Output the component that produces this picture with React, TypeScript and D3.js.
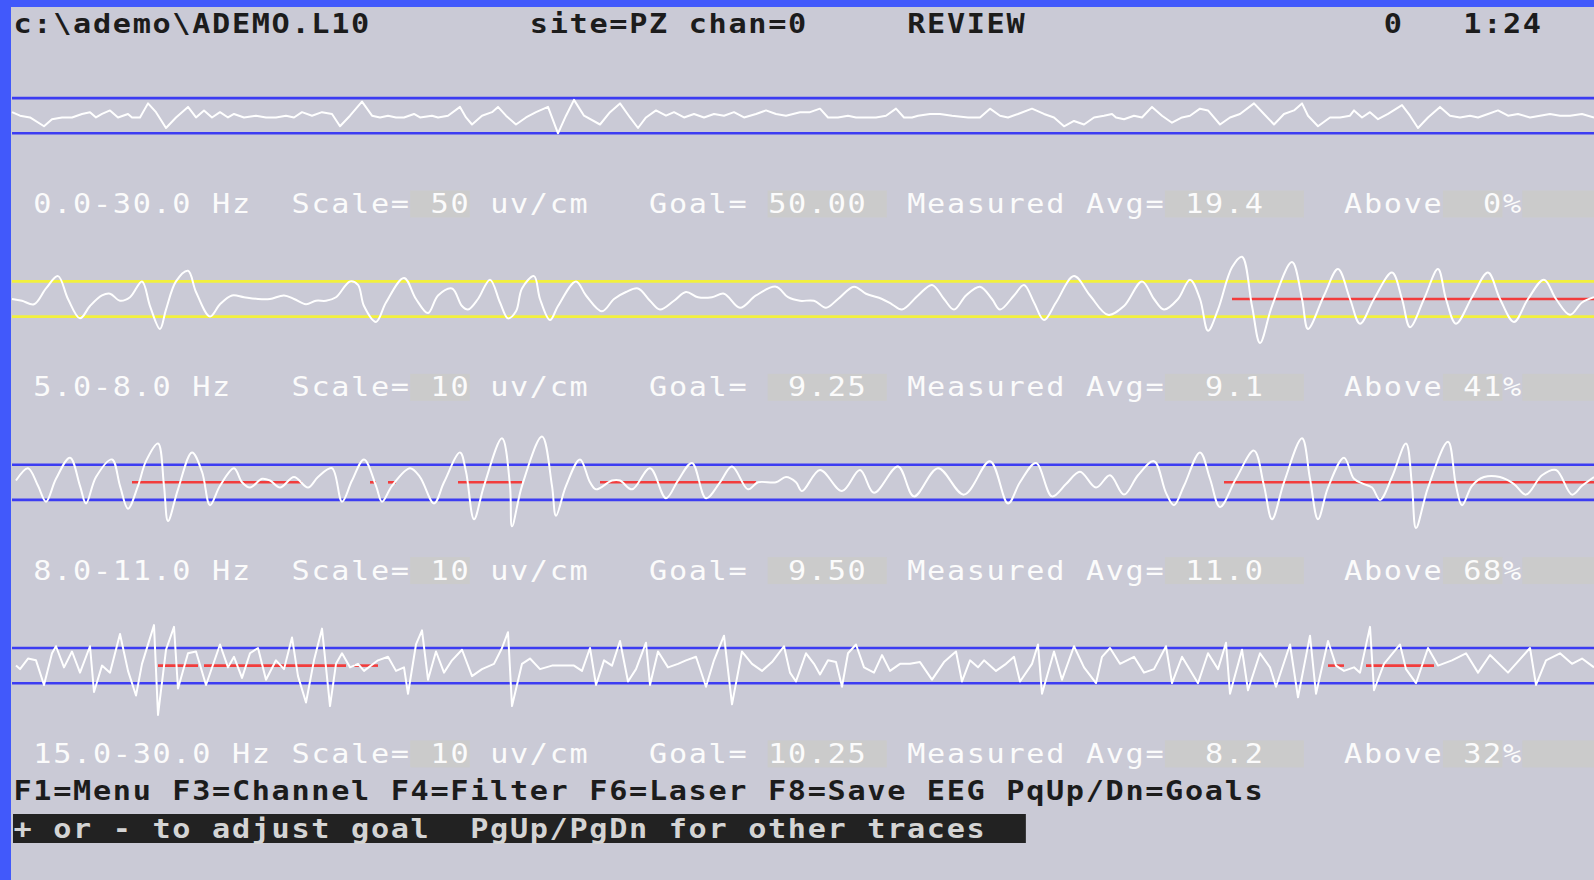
import React from 'react';
import * as d3 from 'd3';

// screen geometry (80-column text mode look)
const W = 1594;
const H = 880;
const X0 = 13;
const CELL = 19.86;
const FONT = "'DejaVu Sans Mono', 'Liberation Mono', monospace";
const FS = 26.5;
const SX = 1.14;
const LS = CELL / SX - 0.602 * FS;

const header: [number, string][] = [
  [0, 'c:\\ademo\\ADEMO.L10'],
  [26, 'site=PZ chan=0'],
  [45, 'REVIEW'],
  [69, '0'],
  [73, '1:24'],
];

const bands = ['0.0-30.0 Hz', '5.0-8.0 Hz', '8.0-11.0 Hz', '15.0-30.0 Hz'];
const scales = [50, 10, 10, 10];
const goals = [50.0, 9.25, 9.5, 10.25];
const measured = [19.4, 9.1, 11.0, 8.2];
const above = [0, 41, 68, 32];
const lineColors = ['#3c3cf2', '#f2f03c', '#3c3cf2', '#3c3cf2'];
const smooth = [false, true, true, false];

const footer = 'F1=Menu F3=Channel F4=Filter F6=Laser F8=Save EEG PqUp/Dn=Goals';
const prompt = '+ or - to adjust goal  PgUp/PgDn for other traces';

// traces: [sample, amplitude], amplitude +-10 = band lines
const trace1: [number, number][] = [
  [0, 2], [4, 0], [9, -1], [16, -6], [20, -2], [25, -1], [30, -1], [35, 1], [39, 2], [42, -1], [45, 1], [49, 3],
  [53, -1], [58, 1], [60, -1], [64, -1], [68, 7], [72, 2], [77, -7], [82, -1], [88, 5], [92, -1], [96, 3], [100, -1],
  [104, 2], [108, -1], [111, 1], [116, -1], [122, 0], [127, -1], [132, -1], [137, 0], [141, -1], [145, 2], [150, 0],
  [155, 2], [160, 1], [164, -6], [169, 0], [175, 8], [180, 0], [184, -1], [188, 0], [192, -1], [196, -1], [201, 1],
  [204, -1], [210, 0], [213, -1], [218, 0], [224, 5], [227, -1], [230, -5], [235, 0], [240, 2], [243, 5], [247, 0],
  [252, -5], [257, -1], [262, 2], [268, 5], [273, -10], [277, 0], [281, 9], [286, 0], [294, -5], [299, 2], [304, 7],
  [309, -1], [313, -7], [317, -1], [322, 3], [327, 0], [331, 2], [336, -1], [341, 1], [346, -1], [351, 1], [356, 0],
  [361, 2], [366, -1], [372, 1], [377, 3], [382, 1], [387, 0], [394, 2], [399, 2], [404, 4], [408, -1], [413, -1],
  [418, 0], [422, -1], [427, -1], [432, -1], [437, 0], [442, 4], [446, -1], [450, -1], [453, 0], [459, 1], [464, 1],
  [470, 0], [478, -1], [484, -1], [489, 4], [494, 0], [498, -1], [503, 1], [510, 4], [516, 1], [521, -1], [526, -6],
  [531, -3], [536, -5], [541, -1], [546, 0], [550, 1], [552, -1], [556, -2], [561, 0], [565, -1], [570, 5], [575, 0],
  [580, -4], [585, -1], [589, 0], [594, 4], [598, 3], [604, -5], [609, -1], [614, 1], [621, 7], [626, 1], [631, -5],
  [636, 1], [641, 3], [645, 7], [648, 0], [653, -6], [659, -1], [664, -1], [669, 0], [671, 3], [675, -1], [679, 2],
  [683, -2], [688, 1], [695, 6], [699, 0], [703, -7], [708, -1], [714, 5], [719, 0], [724, -1], [729, 0], [733, -1],
  [738, 1], [743, 3], [748, 0], [753, 1], [759, -1], [764, 0], [769, 1], [774, 0], [779, 0], [785, 1], [791, -1],
];

const trace2: [number, number][] = [
  [0, 0], [5, -1], [11, -3], [17, 6], [23, 13], [28, 0], [34, -11], [39, -4], [45, 2], [49, 3], [54, -1], [59, 1],
  [65, 10], [69, -4], [74, -17], [77, -6], [82, 10], [88, 16], [92, 4], [99, -10], [104, -3], [110, 2], [116, 1],
  [123, 0], [129, 0], [136, 2], [141, 0], [147, -3], [152, -1], [157, -1], [162, 1], [169, 10], [173, 8], [176, -4],
  [182, -13], [187, -2], [196, 12], [202, 0], [208, -8], [213, 2], [220, 6], [225, -4], [228, -6], [233, 0],
  [239, 11], [244, -2], [248, -11], [252, -7], [255, 6], [261, 13], [264, 0], [269, -12], [273, -4], [282, 10],
  [287, 2], [295, -7], [301, 0], [307, 4], [313, 6], [319, -1], [324, -6], [331, -1], [337, 4], [343, 1], [350, 1],
  [356, 3], [364, -5], [372, 2], [382, 7], [388, 1], [394, -1], [401, -1], [407, -5], [413, 0], [421, 7], [427, 3],
  [435, 0], [440, -3], [445, -6], [453, 2], [460, 8], [466, 0], [471, -6], [477, 2], [484, 7], [490, 0], [494, -6],
  [501, 2], [506, 8], [511, -2], [516, -12], [522, -2], [531, 13], [539, 2], [548, -9], [556, -4], [565, 10],
  [571, 0], [576, -6], [583, 0], [589, 11], [594, 0], [598, -18], [603, -6], [610, 18], [615, 24], [620, -4],
  [624, -25], [630, -4], [640, 21], [645, 0], [648, -17], [656, 2], [663, 17], [669, 0], [674, -14], [681, 0],
  [690, 15], [695, 0], [699, -16], [706, 0], [713, 17], [717, 0], [722, -14], [730, 1], [738, 15], [744, 0],
  [751, -13], [758, 0], [766, 11], [772, 0], [779, -9], [785, -2], [791, 1],
];

const trace3: [number, number][] = [
  [2, 1], [8, 8], [13, -2], [17, -11], [22, 2], [29, 14], [34, -2], [37, -12], [42, 3], [50, 13], [54, -2], [58, -15],
  [63, -2], [67, 12], [73, 22], [76, -2], [78, -22], [83, -4], [90, 17], [95, 6], [99, -13], [104, -2], [111, 8],
  [115, 0], [119, -3], [125, 2], [129, 1], [134, -3], [141, 3], [148, -3], [153, 3], [160, 8], [165, -11], [170, 1],
  [176, 13], [182, -2], [185, -11], [190, -2], [199, 8], [204, 3], [211, -12], [216, 0], [224, 17], [227, 6],
  [231, -21], [236, -2], [245, 25], [249, -2], [250, -25], [255, -2], [265, 26], [270, -2], [272, -19], [277, -2],
  [284, 13], [289, 0], [292, -4], [300, 1], [304, 1], [310, -4], [319, 8], [327, -9], [333, 1], [340, 11], [347, -9],
  [354, 0], [360, 9], [368, -4], [373, 0], [382, 0], [387, 3], [392, 0], [395, -5], [404, 7], [415, -5], [424, 7],
  [431, -6], [443, 9], [451, -8], [463, 8], [476, -7], [489, 12], [498, -12], [504, 0], [512, 11], [520, -8],
  [527, -1], [534, 6], [542, -3], [549, 4], [556, -7], [563, 4], [571, 12], [577, -6], [581, -13], [586, -2],
  [594, 17], [599, 2], [604, -14], [612, 2], [621, 18], [626, -2], [630, -21], [636, 0], [645, 25], [649, 2],
  [653, -21], [658, -3], [666, 14], [671, 2], [676, -1], [680, -3], [684, -10], [690, 3], [697, 22], [700, -2],
  [702, -26], [708, -3], [718, 23], [722, -2], [725, -13], [730, -2], [736, 3], [744, 3], [751, -1], [757, -7],
  [765, 4], [772, 7], [780, -7], [785, -2], [791, 3],
];

const trace4: [number, number][] = [
  [2, 0], [4, -2], [8, 4], [12, 3], [16, -11], [20, 7], [22, 11], [26, -1], [30, 8], [34, -4], [39, 11], [41, -15],
  [45, 0], [49, -4], [54, 18], [58, -3], [62, -17], [65, 1], [71, 23], [73, -28], [77, 9], [81, 22], [83, -13],
  [88, 7], [92, 8], [97, -11], [104, 12], [108, -1], [111, 5], [115, -7], [119, 7], [123, 10], [127, -8], [132, 3],
  [136, -2], [140, 16], [143, -6], [147, -21], [151, 3], [155, 21], [159, -23], [162, 1], [165, 7], [169, -1],
  [173, 1], [176, -3], [183, 3], [188, 5], [192, -3], [196, -1], [198, -16], [202, 12], [205, 20], [208, -8],
  [212, 8], [216, -4], [220, 3], [225, 9], [230, -6], [235, -2], [241, 1], [245, 10], [248, 19], [250, -23],
  [255, 1], [259, 4], [264, -2], [270, 0], [275, 0], [281, 0], [285, -3], [289, 10], [292, -11], [296, 3], [300, 0],
  [304, 14], [308, -9], [312, -2], [317, 13], [319, -11], [323, 8], [328, -1], [333, 1], [337, 3], [342, 5],
  [347, -12], [351, 3], [356, 17], [360, -22], [365, 8], [370, 1], [375, -3], [380, 2], [386, 11], [389, -4],
  [392, -9], [397, 7], [401, 1], [404, -5], [408, 3], [412, 2], [415, -12], [418, 7], [422, 12], [426, -1],
  [431, -4], [435, 6], [439, -3], [444, 1], [449, 1], [454, 2], [460, -8], [466, 2], [472, 8], [475, -9], [479, 3],
  [483, -1], [486, 3], [492, -3], [497, 1], [501, 5], [504, -9], [510, 1], [513, 12], [515, -16], [521, 8],
  [525, -8], [531, 11], [536, -1], [542, -10], [545, 5], [549, 10], [554, 1], [561, 5], [566, -4], [571, -2],
  [577, 11], [580, -10], [585, 5], [593, -10], [598, 7], [603, -2], [607, 13], [609, -16], [615, 9], [618, -14],
  [624, 7], [629, -1], [632, -12], [639, 12], [643, -18], [649, 17], [652, -16], [658, 14], [662, 0], [666, -3],
  [671, -1], [674, -4], [679, 22], [681, -14], [686, 1], [694, 12], [697, -2], [702, -10], [708, 10], [713, 0],
  [720, 3], [727, 7], [733, -4], [739, 6], [748, -4], [759, 10], [762, -11], [767, 3], [774, 7], [780, 1],
  [785, 4], [791, -1],
];

// reward (above goal) stretches, in samples
const reward1: [number, number][] = [];
const reward2: [number, number][] = [[610, 791]];
const reward3: [number, number][] = [[60, 145], [179, 182], [188, 192], [223, 255], [294, 372], [606, 791]];
const reward4: [number, number][] = [[73, 93], [96, 167], [171, 183], [658, 666], [677, 711]];

const traces = [trace1, trace2, trace3, trace4];
const rewards = [reward1, reward2, reward3, reward4];

const rowY = d3.scaleLinear().domain([0, 1]).range([115.7, 299]);
const x = d3.scaleLinear().domain([0, 791]).range([12, W]);
const HALF = 17.6;
const colX = (c: number) => X0 + c * CELL;

const Txt = ({ col, y, s, fill, bold }: { col: number; y: number; s: string; fill: string; bold?: boolean }) => (
  <text
    transform={`translate(${colX(col) + 0.5},${y + 9.6}) scale(${SX},1)`}
    fill={fill}
    fontFamily={FONT}
    fontSize={FS}
    fontWeight={bold ? 'bold' : 'normal'}
    letterSpacing={LS}
    style={{ whiteSpace: 'pre' }}
  >
    {s}
  </text>
);

const Box = ({ c0, c1, y, fill }: { c0: number; c1: number; y: number; fill: string }) => (
  <rect x={colX(c0)} y={y - 13} width={(c1 - c0 + 1) * CELL} height={27} fill={fill} />
);

export default function App() {
  const textY = (i: number) => 203.5 + i * 183.3;
  return (
    <svg width={W} height={H} style={{ position: 'absolute', left: 0, top: 0, display: 'block' }}>
      <rect x={0} y={0} width={W} height={H} fill="#cacad6" />
      <rect x={0} y={0} width={W} height={7} fill="#4159fb" />
      <rect x={0} y={0} width={11} height={H} fill="#4159fb" />

      {header.map(([c, s]) => (
        <Txt key={s} col={c} y={23.5} s={s} fill="#1c1c1c" bold />
      ))}

      {traces.map((tr, i) => {
        const cy = rowY(i);
        const y = d3.scaleLinear().domain([-10, 10]).range([cy + HALF, cy - HALF]);
        const line = d3
          .line<[number, number]>()
          .x((d) => x(d[0]))
          .y((d) => y(d[1]))
          .curve(smooth[i] ? d3.curveCatmullRom.alpha(0.5) : d3.curveLinear);
        return (
          <g key={i}>
            {[10, -10].map((v) => (
              <line key={v} x1={x(0)} x2={W} y1={y(v)} y2={y(v)} stroke={lineColors[i]} strokeWidth={2.6} />
            ))}
            {rewards[i].map(([a, b], k) => (
              <line key={k} x1={x(a)} x2={x(b)} y1={y(0)} y2={y(0)} stroke="#f23c3c" strokeWidth={2.6} />
            ))}
            <path d={line(tr) || ''} fill="none" stroke="#ffffff" strokeWidth={2} strokeLinejoin="round" />
          </g>
        );
      })}

      {bands.map((b, i) => {
        const ty = textY(i);
        const goal = goals[i].toFixed(2).padStart(5, ' ');
        const meas = measured[i].toFixed(1).padStart(5, ' ');
        const ab = String(above[i]).padStart(3, ' ');
        const sc = String(scales[i]).padStart(3, ' ');
        return (
          <g key={b}>
            <Box c0={20} c1={22} y={ty} fill="#cbcbcb" />
            <Box c0={38} c1={43} y={ty} fill="#cbcbcb" />
            <Box c0={58} c1={64} y={ty} fill="#cbcbcb" />
            <Box c0={72} c1={74} y={ty} fill="#cbcbcb" />
            <Box c0={76} c1={80} y={ty} fill="#cbcbcb" />
            <Txt col={1} y={ty} s={b} fill="#fbfbfb" />
            <Txt col={14} y={ty} s={'Scale=' + sc} fill="#fbfbfb" />
            <Txt col={24} y={ty} s="uv/cm" fill="#fbfbfb" />
            <Txt col={32} y={ty} s="Goal=" fill="#fbfbfb" />
            <Txt col={38} y={ty} s={goal} fill="#fbfbfb" />
            <Txt col={45} y={ty} s={'Measured Avg=' + meas} fill="#fbfbfb" />
            <Txt col={67} y={ty} s={'Above' + ab + '%'} fill="#fbfbfb" />
          </g>
        );
      })}

      <Txt col={0} y={790} s={footer} fill="#1c1c1c" bold />
      <rect x={X0} y={814} width={51 * CELL} height={29} fill="#222222" />
      <Txt col={0} y={828.5} s={prompt} fill="#d4d4d4" bold />
    </svg>
  );
}
